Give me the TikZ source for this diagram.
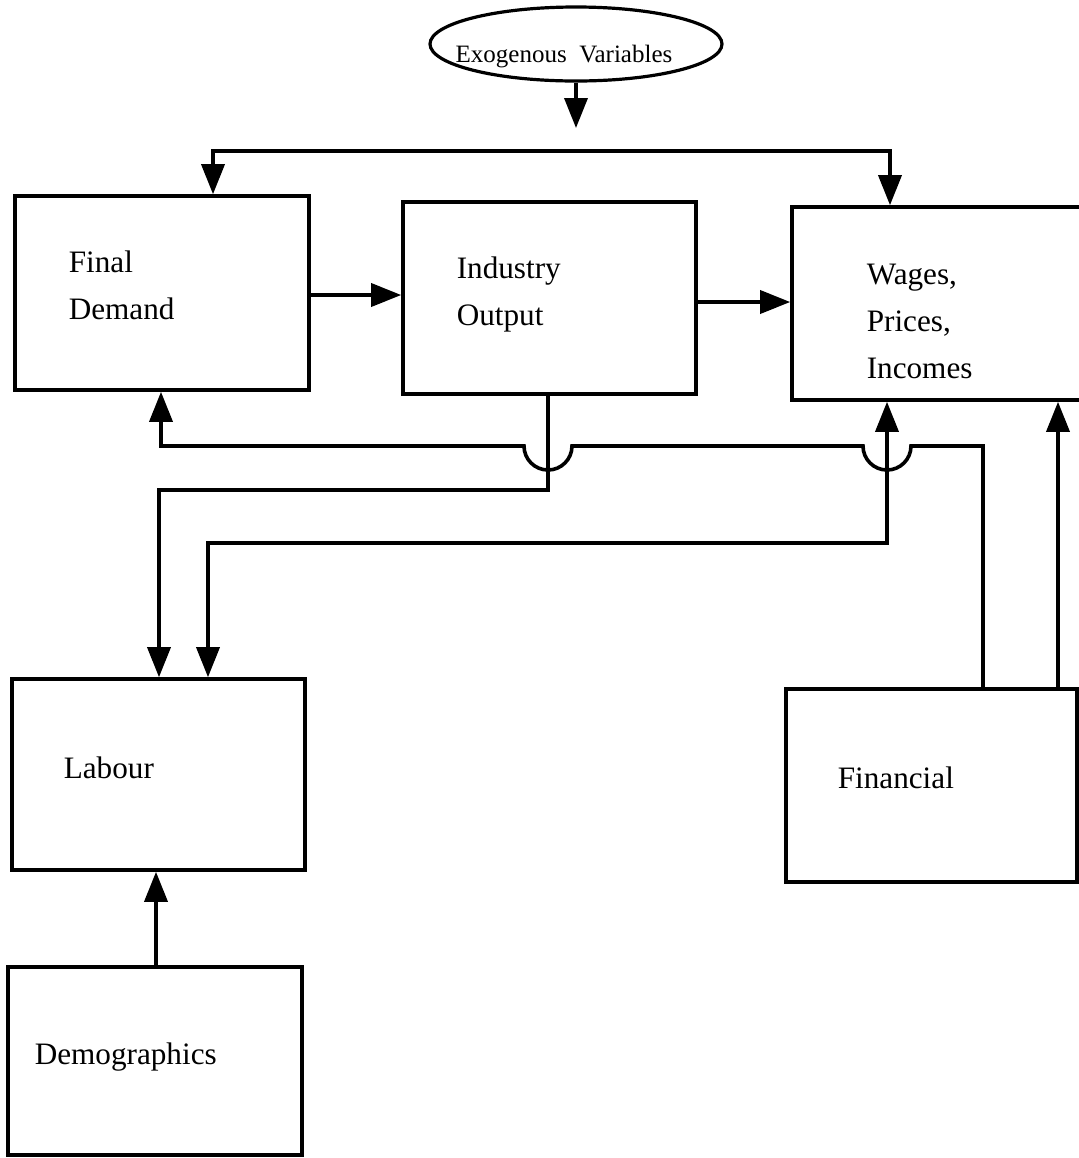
\documentclass[tikz,border=0pt]{standalone}
\usepackage{fontspec}
\setmainfont{Liberation Serif}
\usetikzlibrary{arrows.meta,shapes.geometric,fit}
\begin{document}
\begin{tikzpicture}[x=0.5pt,y=0.5pt,
  line width=1.8pt,
  >={Triangle[width=11.5pt,length=15pt]},
  box/.style={draw, line width=1.8pt, inner sep=0pt},
  lbl/.style={anchor=base west, inner sep=0pt, align=left,
    font=\fontsize{15.6pt}{23.5pt}\selectfont},
  conn/.style={->, line width=1.8pt},
  dconn/.style={<->, line width=1.8pt}]
\useasboundingbox (0,0) rectangle (1079,-1158);
\clip (0,0) rectangle (1079,-1158);

% exogenous inputs
\node[draw, ellipse, line width=1.6pt, inner sep=0pt,
  minimum width=146pt, minimum height=37pt] (exo) at (576,-44) {};
\node[anchor=base, inner sep=0pt, font=\fontsize{12.5pt}{15pt}\selectfont]
  (exot) at (564,-62) {Exogenous\ \ Variables};
\coordinate (exoend) at (576,-128);

% model blocks
\node[box, fit={(15,-196) (309,-390)}] (fd) {};
\node[box, fit={(403,-202) (696,-394)}] (io) {};
\node[box, fit={(792,-207) (1095,-400)}] (wp) {};
\node[box, fit={(12,-679) (305,-870)}] (lab) {};
\node[box, fit={(786,-689) (1077,-882)}] (fin) {};
\node[box, fit={(8,-967) (302,-1155)}] (dem) {};

% block titles (anchored at the baseline of their last line)
\node[lbl] (fdt) at (67,-319) {Final\\Demand};
\node[lbl] (iot) at (455,-325) {Industry\\Output};
\node[lbl] (wpt) at (865,-378) {Wages,\\Prices,\\Incomes};
\node[lbl] (labt) at (62,-778) {Labour};
\node[lbl] (fint) at (836,-788) {Financial};
\node[lbl] (demt) at (33,-1064) {Demographics};

% reference columns and rows for the connectors
\coordinate (busL) at (213,-151);
\coordinate (busR) at (890,-151);
\coordinate (rowFD) at (0,-295);
\coordinate (rowIO) at (0,-302);
\coordinate (colFDb) at (161,0);
\coordinate (colIOb) at (548,0);
\coordinate (colWPb) at (887,0);
\coordinate (colFinA) at (983,0);
\coordinate (colFinB) at (1058,0);
\coordinate (colLabA) at (159,0);
\coordinate (colLabB) at (208,0);
\coordinate (colDem) at (156,0);
\coordinate (rowRet) at (0,-446);
\coordinate (rowIOL) at (0,-490);
\coordinate (rowWPL) at (0,-543);

% connectors
\draw[conn] (exo.south) -- (exoend);
\draw[dconn] (fd.north -| busL) -- (busL) -- (busR) -- (wp.north -| busR);
\draw[conn] (fd.east |- rowFD) -- (io.west |- rowFD);
\draw[conn] (io.east |- rowIO) -- (wp.west |- rowIO);
\draw[conn] (fin.north -| colFinA) -- (colFinA |- rowRet) -- (911,-446)
  arc[start angle=0, end angle=-180, radius=24] -- (572,-446)
  arc[start angle=0, end angle=-180, radius=24] -- (colFDb |- rowRet)
  -- (fd.south -| colFDb);
\draw[conn] (io.south -| colIOb) -- (colIOb |- rowIOL) -- (colLabA |- rowIOL)
  -- (lab.north -| colLabA);
\draw[dconn] (wp.south -| colWPb) -- (colWPb |- rowWPL) -- (colLabB |- rowWPL)
  -- (lab.north -| colLabB);
\draw[conn] (fin.north -| colFinB) -- (wp.south -| colFinB);
\draw[conn] (dem.north -| colDem) -- (lab.south -| colDem);
\end{tikzpicture}
\end{document}
